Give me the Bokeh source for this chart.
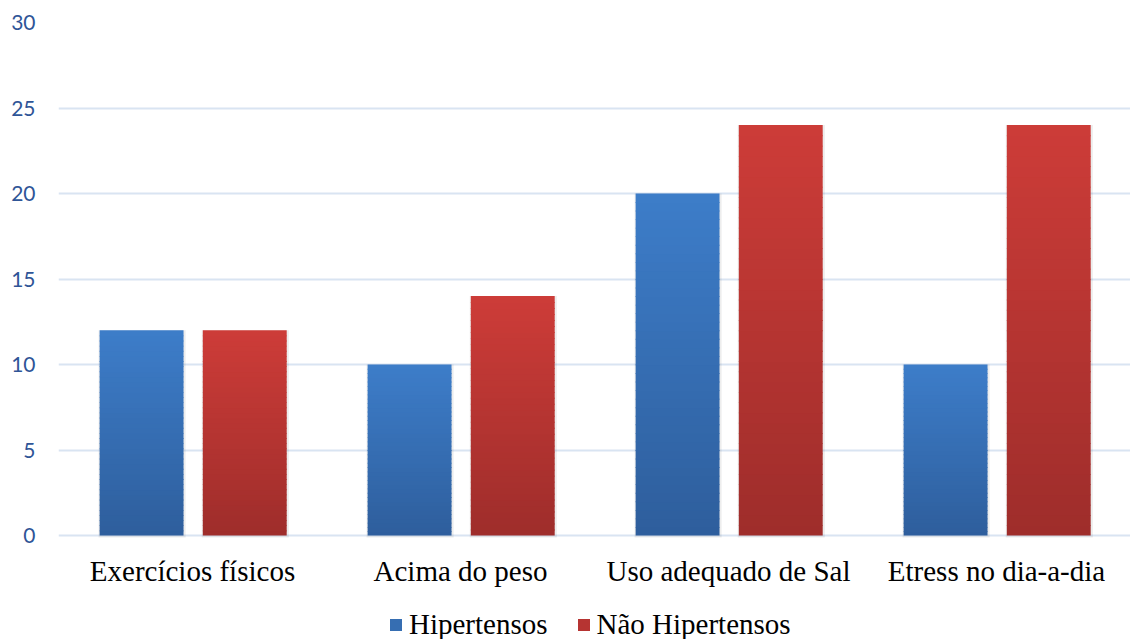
from bokeh.plotting import figure
from bokeh.models import ColumnDataSource, FixedTicker, Legend, LegendItem
from bokeh.core.properties import value
from bokeh.embed import file_html
from bokeh.resources import INLINE

categories = ["Exercícios físicos", "Acima do peso", "Uso adequado de Sal", "Etress no dia-a-dia"]
hipertensos = [12, 10, 20, 10]
nao_hipertensos = [12, 14, 24, 24]
y_ticks = [0, 5, 10, 15, 20, 25, 30]

series = [
    ("Hipertensos", hipertensos, -0.19, (46, 94, 156), (61, 125, 201)),
    ("Não Hipertensos", nao_hipertensos, 0.195, (158, 45, 43), (205, 60, 56)),
]
BAR_W = 0.313
N = 40

# frame extends below the value axis so category labels and legend sit inside it
p = figure(width=1130, height=639, output_backend="svg", toolbar_location=None,
           x_range=(0, len(categories)), y_range=(-6.08, 30),
           frame_width=1072, frame_height=617,
           min_border_left=58, min_border_top=22, min_border_right=0, min_border_bottom=0)
p.outline_line_color = None
p.background_fill_color = "white"

legend_items = []
for name, vals, off, c_bot, c_top in series:
    xs = [i + 0.5 + off for i in range(len(categories))]
    sh = ColumnDataSource(dict(x=[x + 0.002 for x in xs], top=vals))
    p.vbar(x="x", top="top", bottom=-0.12, width=BAR_W + 0.012, source=sh,
           fill_color="#000000", fill_alpha=0.07, line_color=None)
    sx, sb, st, sc = [], [], [], []
    for x, v in zip(xs, vals):
        for k in range(N):
            f = (k + 0.5) / N
            r = round(c_bot[0] + (c_top[0] - c_bot[0]) * f)
            g = round(c_bot[1] + (c_top[1] - c_bot[1]) * f)
            b = round(c_bot[2] + (c_top[2] - c_bot[2]) * f)
            sx.append(x)
            sb.append(max(0, v * k / N - 0.05))
            st.append(v * (k + 1) / N)
            sc.append("#%02x%02x%02x" % (r, g, b))
    src = ColumnDataSource(dict(x=sx, bottom=sb, top=st, color=sc))
    p.vbar(x="x", bottom="bottom", top="top", width=BAR_W, source=src,
           fill_color="color", line_color=None)
    mid = tuple(round((a + b) / 2) for a, b in zip(c_bot, c_top))
    dummy = p.vbar(x=[xs[0]], top=[0], bottom=[0], width=0, fill_color="#%02x%02x%02x" % mid,
                   line_color=None)
    legend_items.append(LegendItem(label=name, renderers=[dummy]))

# category labels
lab_src = ColumnDataSource(dict(x=[i + 0.5 for i in range(len(categories))],
                                y=[-2.05] * len(categories), text=categories))
p.text(x="x", y="y", text="text", source=lab_src, text_align="center",
       text_baseline="middle", text_font=value("Liberation Serif"),
       text_font_size="29px", text_color="black")

p.xaxis.visible = False
p.xgrid.grid_line_color = None

p.yaxis.ticker = FixedTicker(ticks=y_ticks)
p.yaxis.axis_line_color = None
p.yaxis.major_tick_line_color = None
p.yaxis.minor_tick_line_color = None
p.yaxis.major_tick_out = 0
p.yaxis.major_tick_in = 0
p.yaxis.minor_tick_out = 0
p.yaxis.major_label_text_font = "Lato"
p.yaxis.major_label_text_font_size = "21px"
p.yaxis.major_label_text_color = "#2F5597"
p.yaxis.major_label_standoff = 23
p.ygrid.ticker = FixedTicker(ticks=y_ticks)
p.ygrid.grid_line_color = "#D9E4F2"
p.ygrid.grid_line_width = 2

legend = Legend(items=legend_items, orientation="horizontal", location=(330, -2),
                label_text_font="Liberation Serif", label_text_font_size="29px",
                label_text_color="black", glyph_width=15, glyph_height=15,
                spacing=28, padding=0, margin=0, border_line_color=None,
                background_fill_alpha=0,
                label_standoff=6, label_height=20)
p.add_layout(legend)

open("out.html", "w").write(file_html(p, INLINE))
